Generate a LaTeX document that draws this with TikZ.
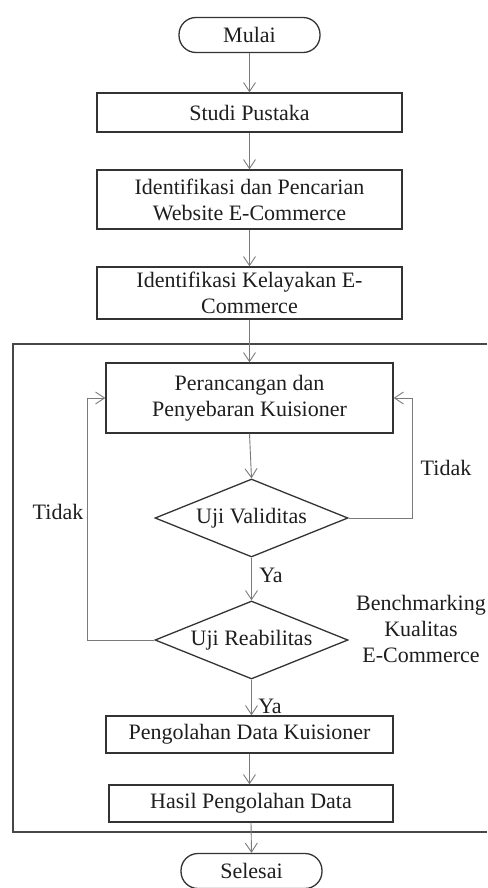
\documentclass[tikz,border=0pt]{standalone}
\usepackage{fontspec}
\setmainfont{Liberation Serif}
\usetikzlibrary{shapes.geometric,arrows.meta}
\definecolor{boxline}{HTML}{333333}
\definecolor{arrline}{HTML}{7A7A7A}
\definecolor{txt}{HTML}{1E1E1E}
\begin{document}
\begin{tikzpicture}[x=1pt,y=-1pt,
  every node/.style={font=\fontsize{22}{26}\selectfont, text=txt},
  procbox/.style={draw=boxline, line width=1.3pt, rectangle, align=center, inner sep=0pt},
  termbox/.style={draw=boxline, line width=1.3pt, rectangle, rounded corners=17pt, align=center, inner sep=0pt, minimum width=141pt, minimum height=35pt},
  decbox/.style={draw=boxline, line width=1.3pt, diamond, aspect=2.47, inner sep=0pt, minimum width=193pt, minimum height=78pt},
  flow/.style={draw=arrline, line width=0.9pt, -{Straight Barb[length=9pt,width=12pt,line width=0.9pt]}},
  lbl/.style={inner sep=0pt}
]
\useasboundingbox (0,0) rectangle (487,888);
% outer frame (right side lies outside the picture)
\draw[draw=boxline!90, line width=1.8pt] (487,344) -- (13,344) -- (13,832) -- (487,832);

\node[termbox] (mulai) at (249.5,35) {Mulai};
\node[procbox, minimum width=305pt, minimum height=39pt] (studi) at (249.5,112.5) {Studi Pustaka};
\node[procbox, minimum width=305pt, minimum height=59pt] (ident1) at (249.5,199.5) {Identifikasi dan Pencarian\\Website E-Commerce};
\node[procbox, minimum width=305pt, minimum height=52pt] (ident2) at (249.5,293) {Identifikasi Kelayakan E-\\Commerce};
\node[procbox, minimum width=287pt, minimum height=70pt] (peran) at (249.5,398) {Perancangan dan\\Penyebaran Kuisioner};
\node[decbox] (uv) at (251.5,518) {Uji Validitas};
\node[decbox] (ur) at (251.5,640) {Uji Reabilitas};
\node[procbox, minimum width=287pt, minimum height=37pt] (olah) at (249.5,734.5) {Pengolahan Data Kuisioner};
\node[procbox, minimum width=284pt, minimum height=37pt] (hasil) at (251,803.5) {Hasil Pengolahan Data};
\node[termbox] (selesai) at (251.5,871) {Selesai};

\node[lbl, align=center] (bench) at (421,629) {Benchmarking\\Kualitas\\E-Commerce};
\node[lbl] (tidakR) at (446,468) {Tidak};
\node[lbl] (tidakL) at (58,512) {Tidak};
\node[lbl] (ya1) at (271,575) {Ya};
\node[lbl] (ya2) at (270,706) {Ya};

\coordinate (rc1) at (412,518);
\coordinate (rc2) at (412,398);
\coordinate (lc1) at (87,640);
\coordinate (lc2) at (87,398);

\draw[flow] (mulai) -- (studi);
\draw[flow] (studi) -- (ident1);
\draw[flow] (ident1) -- (ident2);
\draw[flow] (ident2) -- (peran);
\draw[flow] (peran.south) -- (uv.north);
\draw[flow] (uv.south) -- (ur.north);
\draw[flow] (ur.south) -- (olah.north -| ur.south);
\draw[flow] (olah.south) -- (hasil.north -| olah.south);
\draw[flow] (hasil.south) -- (selesai.north);
\draw[flow] (uv.east) -- (rc1) -- (rc2) -- (peran.east);
\draw[flow] (ur.west) -- (lc1) -- (lc2) -- (peran.west);
\end{tikzpicture}
\end{document}
